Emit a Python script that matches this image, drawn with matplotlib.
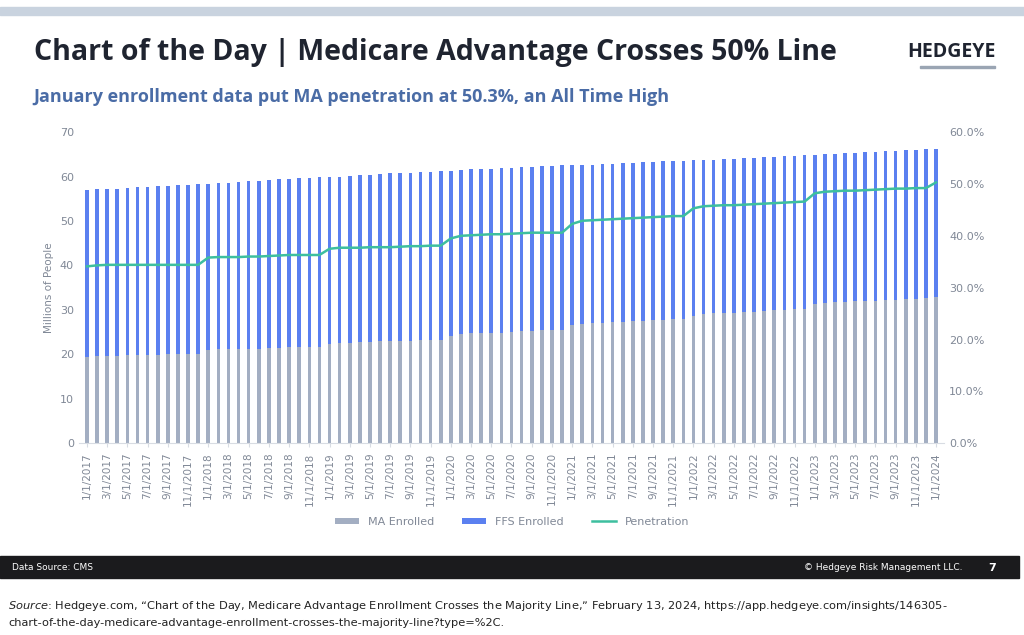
import matplotlib.pyplot as plt
import numpy as np
from matplotlib.patches import Rectangle

# monthly data, 1/1/2017 .. 1/1/2024
dates = [f"{m}/1/{y}" for y in range(2017, 2024) for m in range(1, 13)] + ["1/1/2024"]

ma_enrolled = [
    19.4, 19.6, 19.7, 19.7, 19.8, 19.8, 19.9, 19.9, 20.0, 20.0, 20.0, 20.0,
    20.9, 21.1, 21.1, 21.1, 21.2, 21.3, 21.4, 21.5, 21.6, 21.6, 21.7, 21.7,
    22.4, 22.6, 22.6, 22.7, 22.8, 22.9, 23.0, 23.0, 23.1, 23.2, 23.2, 23.3,
    24.2, 24.6, 24.7, 24.8, 24.9, 24.9, 25.1, 25.2, 25.3, 25.4, 25.4, 25.5,
    26.5, 26.9, 27.0, 27.1, 27.2, 27.3, 27.4, 27.6, 27.7, 27.8, 27.9, 28.0,
    28.7, 29.1, 29.2, 29.3, 29.4, 29.5, 29.6, 29.8, 29.9, 30.0, 30.1, 30.2,
    31.3, 31.6, 31.7, 31.8, 31.9, 32.0, 32.1, 32.2, 32.3, 32.4, 32.5, 32.6,
    33.0,
]
total_enrolled = [
    57.0, 57.1, 57.2, 57.3, 57.4, 57.6, 57.7, 57.8, 57.9, 58.0, 58.2, 58.3,
    58.4, 58.5, 58.6, 58.8, 58.9, 59.1, 59.2, 59.4, 59.5, 59.6, 59.7, 59.8,
    59.9, 60.0, 60.2, 60.3, 60.4, 60.6, 60.7, 60.8, 60.9, 61.0, 61.1, 61.2,
    61.3, 61.5, 61.6, 61.7, 61.8, 61.9, 62.0, 62.1, 62.2, 62.3, 62.4, 62.5,
    62.6, 62.7, 62.7, 62.8, 62.9, 63.0, 63.1, 63.2, 63.3, 63.4, 63.5, 63.6,
    63.7, 63.8, 63.8, 63.9, 64.0, 64.1, 64.2, 64.3, 64.5, 64.6, 64.7, 64.8,
    64.9, 65.0, 65.1, 65.2, 65.4, 65.5, 65.6, 65.7, 65.8, 65.9, 66.0, 66.1,
    66.3,
]
penetration = [
    34.1, 34.3, 34.4, 34.4, 34.4, 34.4, 34.4, 34.4, 34.4, 34.4, 34.4, 34.4,
    35.8, 35.9, 35.9, 35.9, 36.0, 36.0, 36.1, 36.2, 36.3, 36.3, 36.3, 36.3,
    37.5, 37.7, 37.7, 37.7, 37.8, 37.8, 37.8, 37.9, 38.0, 38.0, 38.1, 38.1,
    39.5, 40.0, 40.1, 40.2, 40.3, 40.3, 40.4, 40.5, 40.6, 40.6, 40.6, 40.6,
    42.3, 42.9, 43.0, 43.1, 43.2, 43.3, 43.4, 43.5, 43.6, 43.7, 43.8, 43.8,
    45.3, 45.7, 45.8, 45.9, 45.9, 46.0, 46.1, 46.2, 46.3, 46.4, 46.5, 46.6,
    48.2, 48.5, 48.6, 48.7, 48.7, 48.8, 48.9, 49.0, 49.1, 49.1, 49.2, 49.2,
    50.3,
]
ffs_enrolled = [t - m for t, m in zip(total_enrolled, ma_enrolled)]

MA_COLOR = '#a3aec2'
FFS_COLOR = '#5b80f0'
PEN_COLOR = '#3dbf9f'
TICK_COLOR = '#808896'

fig = plt.figure(figsize=(10.24, 6.35), dpi=100)
fig.patch.set_facecolor('white')

# header / footer decorations
fig.patches.append(Rectangle((0.0, 0.977), 1.0, 0.012, transform=fig.transFigure, color='#c9d3df'))
fig.text(0.033, 0.918, 'Chart of the Day | Medicare Advantage Crosses 50% Line', fontsize=20.5,
         fontweight='bold', color='#1f2430', va='center', family='Open Sans')
fig.text(0.972, 0.918, 'HEDGEYE', fontsize=14, fontweight='bold', color='#1f2430', ha='right',
         va='center', family='Open Sans')
fig.patches.append(Rectangle((0.898, 0.893), 0.074, 0.003, transform=fig.transFigure, color='#9aa5b3'))
fig.text(0.033, 0.848, 'January enrollment data put MA penetration at 50.3%, an All Time High',
         fontsize=13, fontweight='bold', color='#4a6ca6', va='center', family='Open Sans')

fig.patches.append(Rectangle((0.0, 0.089), 0.995, 0.035, transform=fig.transFigure, color='#1b1b1d'))
fig.text(0.012, 0.106, 'Data Source: CMS', fontsize=6.5, color='white', va='center')
fig.text(0.94, 0.106, '© Hedgeye Risk Management LLC.', fontsize=6.5, color='white', va='center', ha='right')
fig.text(0.965, 0.106, '7', fontsize=8, fontweight='bold', color='white', va='center')

fig.text(0.008, 0.046, r'$\it{Source}$: Hedgeye.com, “Chart of the Day, Medicare Advantage Enrollment Crosses the Majority Line,” '
         'February 13, 2024, https://app.hedgeye.com/insights/146305-', fontsize=8.2, color='#222222', va='center')
fig.text(0.008, 0.019, 'chart-of-the-day-medicare-advantage-enrollment-crosses-the-majority-line?type=%2C.',
         fontsize=8.2, color='#222222', va='center')

ax = fig.add_axes([0.077, 0.302, 0.845, 0.49])
x = np.arange(len(dates))
ax.bar(x, ma_enrolled, width=0.36, color=MA_COLOR, label='MA Enrolled')
ax.bar(x, ffs_enrolled, width=0.36, bottom=ma_enrolled, color=FFS_COLOR, label='FFS Enrolled')
ax.set_ylim(0, 70)
ax.set_yticks(range(0, 71, 10))
ax.set_xlim(-0.8, len(dates) - 0.2)
ax.set_xticks(x[::2])
ax.set_xticklabels(dates[::2], rotation=90, fontsize=7.5, color=TICK_COLOR)
ax.tick_params(axis='y', labelsize=8, colors=TICK_COLOR, length=0)
ax.tick_params(axis='x', length=3, color='#d8dce3')
ax.set_ylabel('Millions of People', fontsize=7.5, color=TICK_COLOR)
for s in ['top', 'right', 'left']:
    ax.spines[s].set_visible(False)
ax.spines['bottom'].set_color('#d8dce3')

ax2 = ax.twinx()
ax2.plot(x, penetration, color=PEN_COLOR, linewidth=1.8, label='Penetration')
ax2.set_ylim(0, 60)
ax2.set_yticks(range(0, 61, 10))
ax2.set_yticklabels([f'{v:.1f}%' for v in range(0, 61, 10)])
ax2.tick_params(axis='y', labelsize=8, colors=TICK_COLOR, length=0)
for s in ['top', 'right', 'left', 'bottom']:
    ax2.spines[s].set_visible(False)

h1, l1 = ax.get_legend_handles_labels()
h2, l2 = ax2.get_legend_handles_labels()
fig.legend(h1 + h2, l1 + l2, loc='center', bbox_to_anchor=(0.5, 0.178), ncol=3, frameon=False,
           fontsize=8, labelcolor=TICK_COLOR, handlelength=2.2, handleheight=0.5, columnspacing=2.5)

fig.savefig('out.png', dpi=100)
